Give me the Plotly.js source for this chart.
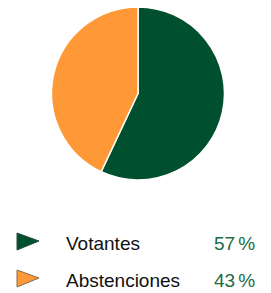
<!DOCTYPE html>
<html>
<head>
<meta charset="utf-8">
<script src="https://cdn.plot.ly/plotly-3.0.1.min.js"></script>
<style>
html,body{margin:0;padding:0;background:#fff;}
#chart{width:271px;height:293px;}
</style>
</head>
<body>
<div id="chart"></div>
<script>
var categories = ["Votantes", "Abstenciones"];
var values = [57, 43];
var percentLabels = ["57\u2006%", "43\u2006%"];
var colors = ["#00502F", "#FF9836"];
var outlineColors = ["#2f4a3a", "#8a6a4a"];

var W = 271, H = 293;
var rowTop = 243, rowStep = 37;

var annotations = [];
var shapes = [];
categories.forEach(function (c, i) {
  var yPix = rowTop + rowStep * i;
  var yPaper = (H - yPix) / H;
  annotations.push({
    xref: "paper", yref: "paper", x: 64 / W, y: yPaper,
    xanchor: "left", yanchor: "middle", showarrow: false,
    text: c, font: {family: "Liberation Sans, Arial, sans-serif", size: 19, color: "#111"}
  });
  annotations.push({
    xref: "paper", yref: "paper", x: 257 / W, y: yPaper,
    xanchor: "right", yanchor: "middle", showarrow: false,
    text: percentLabels[i], font: {family: "Liberation Sans, Arial, sans-serif", size: 19, color: "#1B6B45"}
  });
  shapes.push({
    type: "path", xref: "paper", yref: "paper",
    xsizemode: "pixel", ysizemode: "pixel",
    xanchor: 0, yanchor: yPaper,
    path: "M17,10 L39,2 L17,-7 Z",
    fillcolor: colors[i], line: {color: outlineColors[i], width: 1}
  });
});

var data = [{
  type: "pie",
  labels: categories,
  values: values,
  sort: false,
  direction: "clockwise",
  rotation: 0,
  textinfo: "none",
  hoverinfo: "none",
  marker: {colors: colors, line: {color: "#ffffff", width: 1.5}},
  domain: {x: [51.5 / W, 224.5 / W], y: [1 - 180.5 / H, 1 - 6.5 / H]},
  showlegend: false
}];

var layout = {
  width: W, height: H,
  margin: {l: 0, r: 0, t: 0, b: 0},
  paper_bgcolor: "#fff",
  plot_bgcolor: "#fff",
  showlegend: false,
  annotations: annotations,
  shapes: shapes
};

Plotly.newPlot("chart", data, layout, {displayModeBar: false, staticPlot: true});
</script>
</body>
</html>
